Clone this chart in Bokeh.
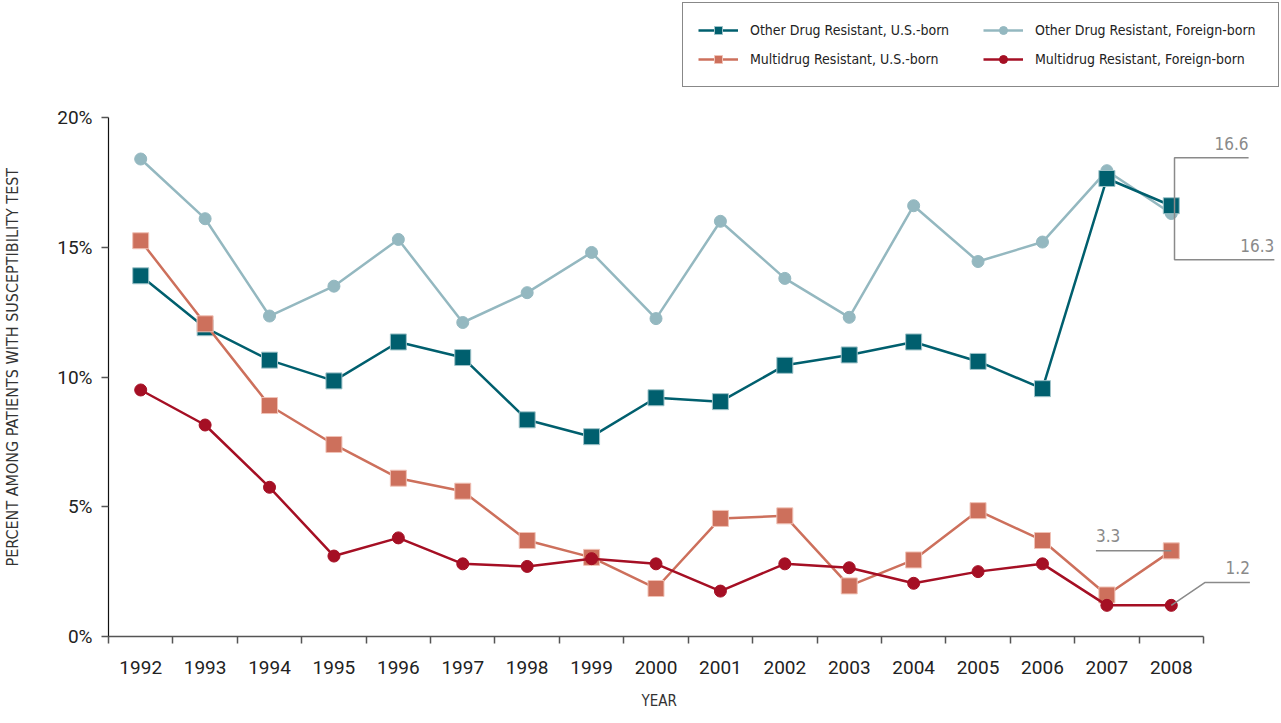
from bokeh.plotting import figure
from bokeh.models import (ColumnDataSource, FixedTicker, Range1d, Legend, LegendItem,
                          Label, Title)
from bokeh.embed import file_html
from bokeh.resources import INLINE

# Drug resistance among TB patients with a susceptibility test, by year
years = [1992, 1993, 1994, 1995, 1996, 1997, 1998, 1999, 2000,
         2001, 2002, 2003, 2004, 2005, 2006, 2007, 2008]

other_us = [13.9, 11.9, 10.65, 9.85, 11.35, 10.75, 8.35, 7.7, 9.2,
            9.05, 10.45, 10.85, 11.35, 10.6, 9.55, 17.65, 16.6]
other_foreign = [18.4, 16.1, 12.35, 13.5, 15.3, 12.1, 13.25, 14.8, 12.25,
                 16.0, 13.8, 12.3, 16.6, 14.45, 15.2, 17.95, 16.3]
multi_us = [15.25, 12.05, 8.9, 7.4, 6.1, 5.6, 3.7, 3.05, 1.85,
            4.55, 4.65, 1.95, 2.95, 4.85, 3.7, 1.6, 3.3]
multi_foreign = [9.5, 8.15, 5.75, 3.1, 3.8, 2.8, 2.7, 3.0, 2.8,
                 1.75, 2.8, 2.65, 2.05, 2.5, 2.8, 1.2, 1.2]

y_ticks = [0, 5, 10, 15, 20]
y_tick_labels = ["0%", "5%", "10%", "15%", "20%"]

TEAL = "#005f6e"
LIGHT = "#94b8c0"
SALMON = "#cd705c"
CRIMSON = "#a50f24"
NOTE = "#8a8a8a"

COND = "DejaVu Sans Condensed"

n = len(years)
xc = [i + 0.5 for i in range(n)]

W, H = 1281, 723
LEFT, BOTTOM = 108, 87
frame_w = W - LEFT
frame_h = H - BOTTOM
px_x = 1095 / n           # pixels per year
px_y = 519 / 20.0         # pixels per percent

p = figure(width=W, height=H, output_backend="svg", toolbar_location=None,
           x_range=Range1d(0, frame_w / px_x), y_range=Range1d(0, frame_h / px_y),
           min_border_left=LEFT, min_border_bottom=BOTTOM,
           min_border_top=0, min_border_right=0)
p.outline_line_color = None
p.grid.visible = False
p.background_fill_color = "white"
p.border_fill_color = "white"

# x axis: labels at category centres, tick marks at category boundaries
xa = p.xaxis[0]
xa.ticker = FixedTicker(ticks=xc, minor_ticks=list(range(n + 1)))
xa.major_label_overrides = {c: str(y) for c, y in zip(xc, years)}
xa.bounds = (0, n)
xa.major_tick_line_color = None
xa.minor_tick_line_color = "#555555"
xa.minor_tick_out = 7
xa.minor_tick_in = 0
xa.axis_line_color = "#555555"
xa.axis_line_width = 1.5
xa.minor_tick_line_width = 1.5
xa.major_label_standoff = 17
xa.major_label_text_font = "Roboto"
xa.major_label_text_font_size = "19px"
xa.major_label_text_color = "#222222"

ya = p.yaxis[0]
ya.ticker = FixedTicker(ticks=y_ticks, minor_ticks=[])
ya.major_label_overrides = {t: l for t, l in zip(y_ticks, y_tick_labels)}
ya.bounds = (0, 20)
ya.axis_line_color = "#111111"
ya.axis_line_width = 1.2
ya.major_tick_line_color = "#555555"
ya.major_tick_line_width = 1.5
ya.major_tick_out = 7
ya.major_tick_in = 0
ya.major_label_standoff = 9
ya.major_label_text_font = "Roboto"
ya.major_label_text_font_size = "19px"
ya.major_label_text_color = "#222222"
# blank axis label keeps the vertical title clear of the tick labels
ya.axis_label = " "
ya.axis_label_standoff = 11
ya.axis_label_text_font = COND
ya.axis_label_text_font_size = "16px"

# axis titles
p.add_layout(Title(text="PERCENT AMONG PATIENTS WITH SUSCEPTIBILITY TEST",
                   align="left", offset=70, standoff=0, text_font=COND,
                   text_font_size="16px", text_font_style="normal",
                   text_color="#333333"), "left")
p.add_layout(Title(text="YEAR", align="left", offset=533, standoff=26,
                   text_font=COND, text_font_size="15px", text_font_style="normal",
                   text_color="#333333"), "below")

src = ColumnDataSource(dict(x=xc, other_us=other_us, other_foreign=other_foreign,
                            multi_us=multi_us, multi_foreign=multi_foreign))

l1 = p.line("x", "other_foreign", source=src, color=LIGHT, line_width=2.5)
m1 = p.scatter("x", "other_foreign", source=src, marker="circle", size=12,
               fill_color=LIGHT, line_color=LIGHT)
l2 = p.line("x", "other_us", source=src, color=TEAL, line_width=2.5)
m2 = p.scatter("x", "other_us", source=src, marker="square", size=16,
               fill_color=TEAL, line_color="#9fc3c9", line_width=1)
l3 = p.line("x", "multi_us", source=src, color=SALMON, line_width=2.5)
m3 = p.scatter("x", "multi_us", source=src, marker="square", size=16,
               fill_color=SALMON, line_color="#f0c2b6", line_width=1)
l4 = p.line("x", "multi_foreign", source=src, color=CRIMSON, line_width=2.5)
m4 = p.scatter("x", "multi_foreign", source=src, marker="circle", size=12,
               fill_color=CRIMSON, line_color=CRIMSON)

# call-outs for the 2008 values
last = n - 1
x_last = xc[last]
note_font = COND
note_size = "17px"

bx = x_last + 0.05
p.line([x_last + 1.2, bx, bx, x_last + 1.6],
       [other_us[last] + 1.85, other_us[last] + 1.85,
        other_foreign[last] - 1.78, other_foreign[last] - 1.78],
       color=NOTE, line_width=1.5)
p.add_layout(Label(x=x_last + 1.2, y=other_us[last] + 2.15, text=f"{other_us[last]:.1f}",
                   text_align="right", text_font=note_font, text_font_size=note_size,
                   text_color=NOTE))
p.add_layout(Label(x=x_last + 1.6, y=other_foreign[last] - 1.48,
                   text=f"{other_foreign[last]:.1f}", text_align="right",
                   text_font=note_font, text_font_size=note_size, text_color=NOTE))

p.line([x_last - 1.17, x_last], [multi_us[last], multi_us[last]], color=NOTE, line_width=1.5)
p.add_layout(Label(x=x_last - 1.17, y=multi_us[last] + 0.35, text=f"{multi_us[last]:.1f}",
                   text_align="left", text_font=note_font, text_font_size=note_size,
                   text_color=NOTE))

p.line([x_last, x_last + 0.52, x_last + 1.22],
       [multi_foreign[last], multi_foreign[last] + 0.88, multi_foreign[last] + 0.88],
       color=NOTE, line_width=1.5)
p.add_layout(Label(x=x_last + 1.22, y=multi_foreign[last] + 1.2,
                   text=f"{multi_foreign[last]:.1f}", text_align="right",
                   text_font=note_font, text_font_size=note_size, text_color=NOTE))

legend = Legend(items=[
    LegendItem(label="Other Drug Resistant, U.S.-born", renderers=[l2, m2]),
    LegendItem(label="Multidrug Resistant, U.S.-born", renderers=[l3, m3]),
    LegendItem(label="Other Drug Resistant, Foreign-born", renderers=[l1, m1]),
    LegendItem(label="Multidrug Resistant, Foreign-born", renderers=[l4, m4]),
], nrows=2, location="top_right")
legend.border_line_color = "#111111"
legend.border_line_width = 1.5
legend.background_fill_alpha = 1
legend.label_text_font = COND
legend.label_text_font_size = "14px"
legend.label_text_color = "#222222"
legend.glyph_width = 40
legend.glyph_height = 20
legend.label_height = 24
legend.label_width = 228
legend.label_standoff = 12
legend.padding = 15
legend.spacing = 5
legend.margin = 2
p.add_layout(legend, "center")

open("out.html", "w").write(file_html(p, INLINE))
